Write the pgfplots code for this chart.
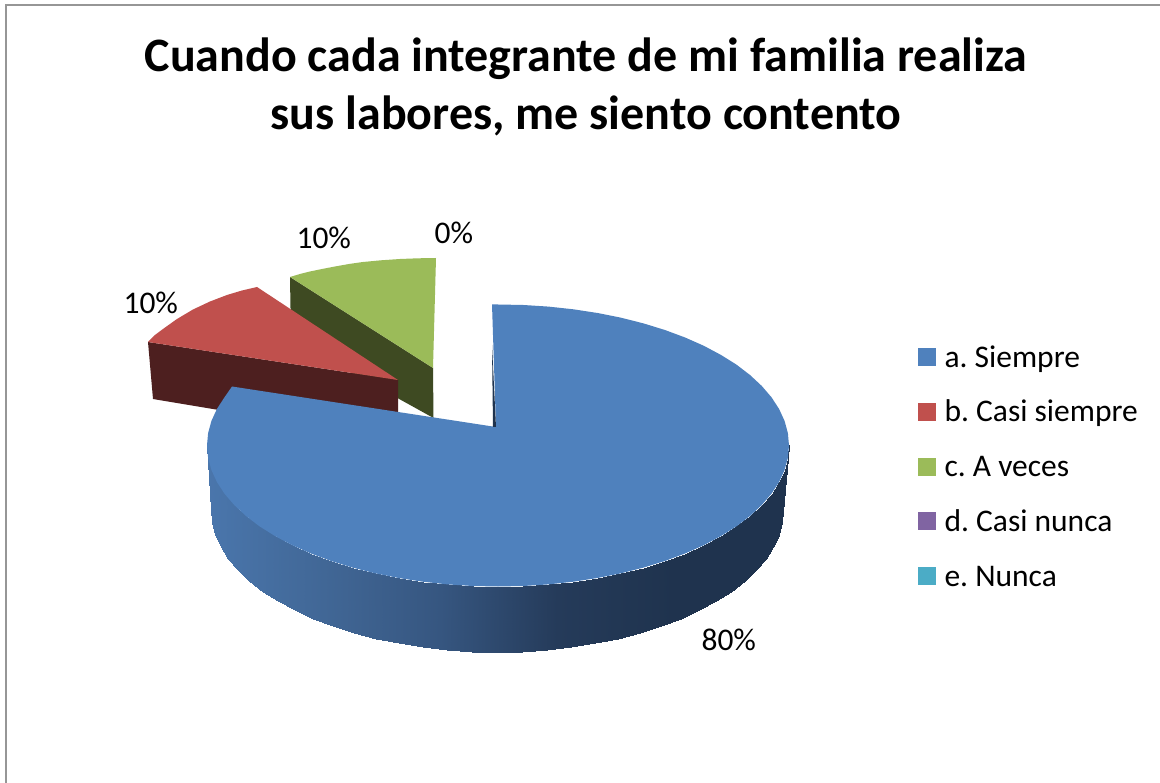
\documentclass[border=0pt]{standalone}
\usepackage{fontspec}
\setmainfont{Carlito}
\usepackage{pgfplots}
\pgfplotsset{compat=1.18}
\frenchspacing
\definecolor{cBlue}{RGB}{79,129,189}
\definecolor{cRed}{RGB}{192,80,77}
\definecolor{cGreen}{RGB}{155,187,89}
\definecolor{cPurple}{RGB}{128,100,162}
\definecolor{cTeal}{RGB}{75,172,198}
\definecolor{dRed}{RGB}{77,31,31}
\definecolor{dGreen}{RGB}{62,74,34}
\definecolor{dBlue}{RGB}{31,51,78}
\definecolor{frameC}{RGB}{150,150,150}
\begin{document}
\begin{tikzpicture}
\begin{axis}[
  scale only axis, width=1160pt, height=783pt,
  xmin=0, xmax=1160, ymin=0, ymax=783, y dir=reverse,
  hide axis, enlargelimits=false,
  colormap={sideblue}{rgb255=(74,118,172) rgb255=(65,103,150) rgb255=(54,86,128) rgb255=(37,59,90) rgb255=(31,51,78) rgb255=(31,51,78)},
  point meta min=207, point meta max=790,
  every node/.style={inner sep=0pt, outer sep=0pt},
]
% page
\addplot[fill=white, draw=none] coordinates {(0,0) (1160,0) (1160,783) (0,783)};
% frame
\addplot[draw=frameC, line width=2pt] coordinates {(5.5,783) (5.5,5.5) (1160,5.5)};
% green side + top
\addplot[fill=dGreen, draw=none] coordinates {(290,277) (433,368) (433.5,418) (291,339)};
\addplot[fill=cGreen, draw=none] coordinates {(290,277) (300,274) (310,271.5) (322,269) (335,266.5) (349,264) (363,262) (381,260.3) (400,259) (418,258.3) (436,258) (433,368)};
% red side + top
\addplot[fill=dRed, draw=none] coordinates {(148,342) (398,380) (398,440) (153,399)};
\addplot[fill=cRed, draw=none] coordinates {(148,342) (155,335) (163,329) (177,319) (193,309.5) (210,301.5) (227,295) (242,290.5) (257,287) (398,380)};
% blue side
\addplot[surf, shader=interp, mesh/rows=2, point meta=\thisrow{x}] table {
x y
207 445.5
208.1 457.8
211.4 470
216.9 482
224.5 493.7
234.3 505.1
246 516
259.6 526.4
275.1 536.1
292.2 545.2
310.9 553.5
331.1 561
352.5 567.6
375 573.3
398.5 578
422.7 581.7
447.5 584.4
472.6 586
498 586.5
523.4 586
548.5 584.4
573.3 581.7
597.5 578
621 573.3
643.5 567.6
664.9 561
685.1 553.5
703.8 545.2
720.9 536.1
736.4 526.4
750 516
761.7 505.1
771.5 493.7
779.1 482
784.6 470
787.9 457.8
789 445.5
211 510
212.1 522.4
215.3 534.7
220.8 546.8
228.2 558.6
237.8 570
249.3 581
262.7 591.5
277.9 601.3
294.8 610.4
313.2 618.8
333 626.3
354 633
376.1 638.7
399.2 643.4
423 647.2
447.4 649.8
472.1 651.5
497 652
521.9 651.5
546.6 649.8
571 647.2
594.8 643.4
617.9 638.7
640 633
661 626.3
680.8 618.8
699.2 610.4
716.1 601.3
731.3 591.5
744.7 581
756.2 570
765.8 558.6
773.2 546.8
778.7 534.7
781.9 522.4
783 510
};
% blue top
\addplot[fill=cBlue, draw=none] coordinates {(492,304.3) (498,304.5) (523.4,305) (548.5,306.6) (573.3,309.3) (597.5,313) (621,317.7) (643.5,323.4) (664.9,330) (685.1,337.5) (703.8,345.8) (720.9,354.9) (736.4,364.6) (750,375) (761.7,385.9) (771.5,397.3) (779.1,409) (784.6,421) (787.9,433.2) (789,445.5) (787.9,457.8) (784.6,470) (779.1,482) (771.5,493.7) (761.7,505.1) (750,516) (736.4,526.4) (720.9,536.1) (703.8,545.2) (685.1,553.5) (664.9,561) (643.5,567.6) (621,573.3) (597.5,578) (573.3,581.7) (548.5,584.4) (523.4,586) (498,586.5) (472.6,586) (447.5,584.4) (422.7,581.7) (398.5,578) (375,573.3) (352.5,567.6) (331.1,561) (310.9,553.5) (292.2,545.2) (275.1,536.1) (259.6,526.4) (246,516) (234.3,505.1) (224.5,493.7) (216.9,482) (211.4,470) (208.1,457.8) (207,445.5) (208.1,433.2) (211.4,421) (216.9,409) (224.5,397.3) (232,386.5) (496,427)};
\addplot[fill=dBlue, draw=none] coordinates {(492,345) (496,427) (493,427)};
% legend keys
\addplot[fill=cBlue, draw=none] coordinates {(918,348) (936,348) (936,366) (918,366)};
\addplot[fill=cRed, draw=none] coordinates {(918,403) (936,403) (936,421) (918,421)};
\addplot[fill=cGreen, draw=none] coordinates {(918,458) (936,458) (936,476) (918,476)};
\addplot[fill=cPurple, draw=none] coordinates {(918,512) (936,512) (936,530) (918,530)};
\addplot[fill=cTeal, draw=none] coordinates {(918,567) (936,567) (936,585) (918,585)};
% title
\node[anchor=base, font=\fontsize{48}{50}\selectfont\bfseries] at (axis cs:586,72) {Cuando cada integrante de mi familia realiza};
\node[anchor=base, font=\fontsize{48}{50}\selectfont\bfseries] at (axis cs:586,130) {sus labores, me siento contento};
% data labels
\node[anchor=base west, font=\fontsize{31.5}{33}\selectfont] at (axis cs:120,314) {10\%};
\node[anchor=base west, font=\fontsize{31.5}{33}\selectfont] at (axis cs:293,249) {10\%};
\node[anchor=base west, font=\fontsize{31.5}{33}\selectfont] at (axis cs:431,244) {0\%};
\node[anchor=base west, font=\fontsize{31.5}{33}\selectfont] at (axis cs:698,650) {80\%};
% legend text
\node[anchor=base west, font=\fontsize{31.5}{33}\selectfont] at (axis cs:941,368) {a. Siempre};
\node[anchor=base west, font=\fontsize{31.5}{33}\selectfont] at (axis cs:941,422) {b. Casi siempre};
\node[anchor=base west, font=\fontsize{31.5}{33}\selectfont] at (axis cs:941,477) {c. A veces};
\node[anchor=base west, font=\fontsize{31.5}{33}\selectfont] at (axis cs:941,532) {d. Casi nunca};
\node[anchor=base west, font=\fontsize{31.5}{33}\selectfont] at (axis cs:941,586) {e. Nunca};
\end{axis}
\end{tikzpicture}
\end{document}
